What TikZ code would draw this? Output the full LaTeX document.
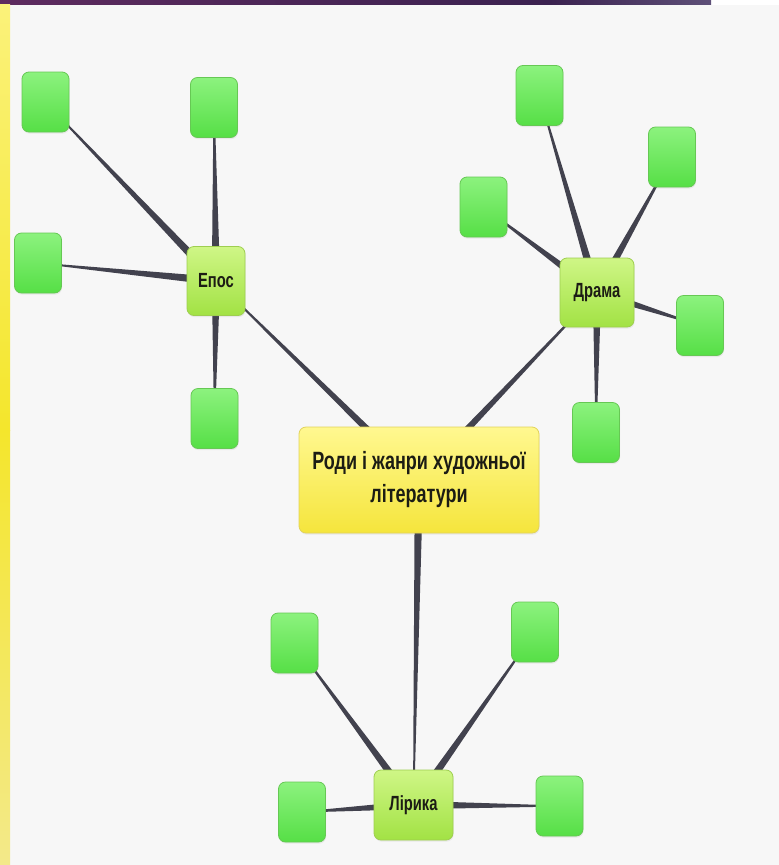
\documentclass[tikz,border=0pt]{standalone}
\usepackage{fontspec}
\newfontfamily\nb[FakeStretch=0.72]{Liberation Sans}
\usetikzlibrary{calc,shadows}
\pgfdeclarelayer{bg}\pgfdeclarelayer{edges}\pgfsetlayers{bg,edges,main}
\definecolor{bgcol}{HTML}{F7F7F7}
\definecolor{edgecol}{HTML}{42424E}
\definecolor{leafT}{HTML}{8CF27E}\definecolor{leafB}{HTML}{56DF46}\definecolor{leafD}{HTML}{66C854}
\definecolor{catT}{HTML}{CFF686}\definecolor{catB}{HTML}{A2E244}\definecolor{catD}{HTML}{9ECE50}
\definecolor{rootT}{HTML}{FFF890}\definecolor{rootB}{HTML}{F5E53C}\definecolor{rootD}{HTML}{E2D35A}
\definecolor{txt}{HTML}{1C1C14}
\definecolor{barA}{HTML}{5E2B5F}\definecolor{barB}{HTML}{3B2250}\definecolor{barC}{HTML}{5E5078}
\definecolor{stripA}{HTML}{FBF27A}\definecolor{stripB}{HTML}{F4E62C}\definecolor{stripC}{HTML}{F3E98A}
\tikzset{
  box/.style={rounded corners=7pt, inner sep=0pt, line width=0.8pt,
    drop shadow={opacity=0.12, shadow xshift=0.6pt, shadow yshift=-1.6pt}},
  leaf/.style={box, minimum width=47pt, minimum height=60pt,
    top color=leafT, bottom color=leafB, draw=leafD},
  cat/.style={box, top color=catT, bottom color=catB, draw=catD, text=txt,
    font=\nb\bfseries\fontsize{20.5}{22}\selectfont},
  root/.style={box, minimum width=240pt, minimum height=106pt, align=center,
    top color=rootT, bottom color=rootB, draw=rootD, text=txt,
    font=\nb\bfseries\fontsize{25}{33}\selectfont},
}
\newcommand\taperedge[2]{%
  \fill[edgecol] ($(#1.center)!4.2pt!90:(#2.center)$) -- ($(#1.center)!4.2pt!-90:(#2.center)$)
    -- ($(#2.center)!0.5pt!90:(#1.center)$) -- ($(#2.center)!0.5pt!-90:(#1.center)$) -- cycle;}
\begin{document}
\begin{tikzpicture}[x=1pt,y=-1pt]
\useasboundingbox (0,0) rectangle (779,865);
\begin{pgfonlayer}{bg}
  \fill[white] (0,0) rectangle (779,865);
  \fill[bgcol] (0,4.5) rectangle (779,865);
  \shade[left color=barA, right color=barB] (0,0) rectangle (550,4.5);
  \shade[left color=barB, right color=barC] (550,0) rectangle (711,4.5);
  \shade[top color=stripA, bottom color=stripB] (0,4.5) rectangle (10,430);
  \shade[top color=stripB, bottom color=stripC] (0,430) rectangle (10,865);
\end{pgfonlayer}

\node[root] (root) at (419,480) {Роди і жанри художньої\\літератури};
\node[cat, minimum width=58pt, minimum height=69pt] (epos) at (216,281) {Епос};
\node[cat, minimum width=74pt, minimum height=69pt] (drama) at (597,292.5) {Драма};
\node[cat, minimum width=79pt, minimum height=70pt] (lyr) at (413.5,805) {Лірика};

\node[leaf] (e1) at (45.5,102) {};
\node[leaf] (e2) at (214,107.5) {};
\node[leaf] (e3) at (38,263) {};
\node[leaf] (e4) at (214.5,418.5) {};

\node[leaf] (d1) at (539.5,95.5) {};
\node[leaf] (d2) at (672,157) {};
\node[leaf] (d3) at (483.5,207) {};
\node[leaf] (d4) at (700,325.5) {};
\node[leaf] (d5) at (596,432.5) {};

\node[leaf] (l1) at (294.5,643) {};
\node[leaf] (l2) at (535,632) {};
\node[leaf] (l3) at (302,812) {};
\node[leaf] (l4) at (559.5,806) {};

\begin{pgfonlayer}{edges}
  \taperedge{root}{epos}
  \taperedge{root}{drama}
  \taperedge{root}{lyr}
  \taperedge{epos}{e1}\taperedge{epos}{e2}\taperedge{epos}{e3}\taperedge{epos}{e4}
  \taperedge{drama}{d1}\taperedge{drama}{d2}\taperedge{drama}{d3}\taperedge{drama}{d4}\taperedge{drama}{d5}
  \taperedge{lyr}{l1}\taperedge{lyr}{l2}\taperedge{lyr}{l3}\taperedge{lyr}{l4}
\end{pgfonlayer}
\end{tikzpicture}
\end{document}
